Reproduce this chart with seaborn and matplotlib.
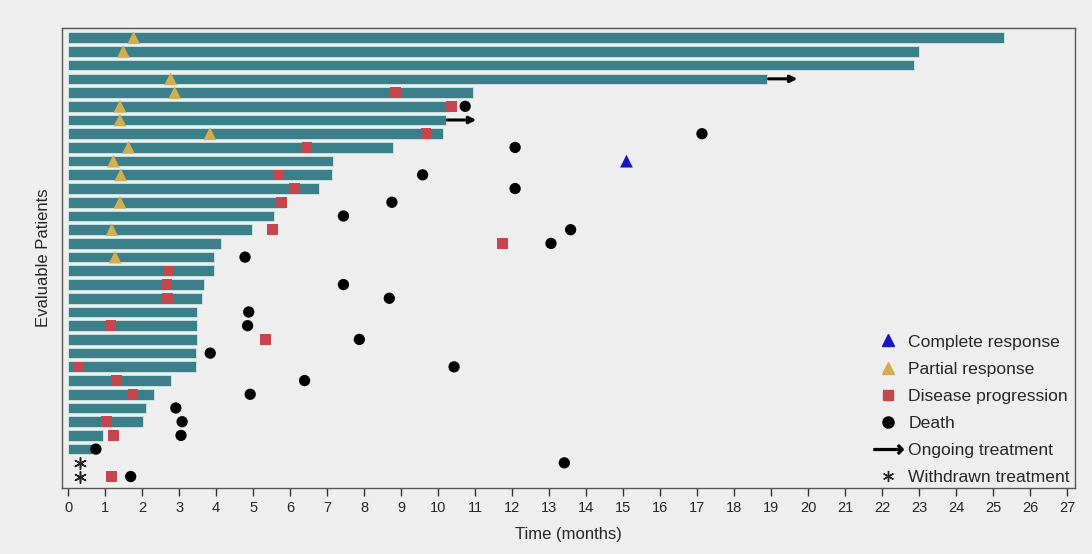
import numpy as np
import pandas as pd
import seaborn as sns
import matplotlib.pyplot as plt
from matplotlib.lines import Line2D

sns.set_theme(style="white")
plt.rcParams["font.family"] = ["Liberation Sans", "DejaVu Sans"]

BG = "#eeeeee"
TEAL = "#3b8089"
GOLD = "#d3ae4c"
RED = "#c6464f"

# patients, top (1) to bottom (33)
patient = list(range(1, 34))
duration = [25.3, 23.0, 22.85, 18.9, 10.93, 10.3, 10.22, 10.14, 8.77, 7.17, 7.14,
            6.79, 5.85, 5.55, 4.96, 4.14, 3.95, 3.95, 3.68, 3.61, 3.48, 3.48, 3.48,
            3.45, 3.45, 2.78, 2.33, 2.10, 2.01, 0.95, 0.64, 0.0, 0.0]

pr_pt = [1, 2, 4, 5, 6, 7, 8, 9, 10, 11, 13, 15, 17]
pr_t = [1.77, 1.49, 2.77, 2.88, 1.40, 1.40, 3.83, 1.63, 1.22, 1.42, 1.40, 1.18, 1.27]

cr_pt = [10]
cr_t = [15.09]

pd_pt = [5, 6, 8, 9, 11, 12, 13, 15, 16, 18, 19, 20, 22, 23, 25, 26, 27, 29, 30, 33]
pd_t = [8.84, 10.36, 9.67, 6.45, 5.68, 6.12, 5.76, 5.53, 11.74, 2.73, 2.67, 2.69,
        1.16, 5.34, 0.28, 1.30, 1.75, 1.03, 1.23, 1.17]

death_pt = [6, 8, 9, 11, 12, 13, 14, 15, 16, 17, 19, 20, 21, 22, 23, 24, 25, 26,
            27, 28, 29, 30, 31, 32, 33]
death_t = [10.73, 17.13, 12.08, 9.58, 12.08, 8.75, 7.44, 13.58, 13.05, 4.78, 7.44,
           8.68, 4.88, 4.85, 7.87, 3.84, 10.43, 6.39, 4.92, 2.91, 3.08, 3.05, 0.75,
           13.41, 1.69]

ongoing_pt = [4, 7]
withdrawn_pt = [32, 33]
withdrawn_t = [0.32, 0.32]

bars = pd.DataFrame({"patient": patient, "duration": duration})
bars = bars[bars["duration"] > 0]

fig, ax = plt.subplots(figsize=(10.92, 5.54), dpi=100)
fig.patch.set_facecolor(BG)
ax.set_facecolor(BG)

sns.barplot(data=bars, x="duration", y="patient", orient="h", native_scale=True,
            color=TEAL, saturation=1, width=0.78, edgecolor="#cfe6e8",
            linewidth=0.6, ax=ax)

sns.scatterplot(x=pr_t, y=pr_pt, marker="^", s=85, color=GOLD, edgecolor="none",
                ax=ax, zorder=3)
sns.scatterplot(x=cr_t, y=cr_pt, marker="^", s=85, color="#1515c8",
                edgecolor="none", ax=ax, zorder=3)
sns.scatterplot(x=pd_t, y=pd_pt, marker="s", s=58, color=RED, edgecolor="none",
                ax=ax, zorder=3)
sns.scatterplot(x=death_t, y=death_pt, marker="o", s=66, color="black",
                edgecolor="none", ax=ax, zorder=3)
sns.scatterplot(x=withdrawn_t, y=withdrawn_pt, marker=(6, 2, 0), s=70,
                color="#222222", linewidth=1.1, ax=ax, zorder=3)

# ongoing treatment arrows start at the bar end
dur_map = dict(zip(patient, duration))
for p in ongoing_pt:
    x0 = dur_map[p] + 0.03
    ax.annotate("", xy=(x0 + 0.78, p), xytext=(x0, p),
                arrowprops=dict(arrowstyle="-|>", color="black", lw=2.2,
                                mutation_scale=10, shrinkA=0, shrinkB=0),
                zorder=4)

ax.set_xlim(-0.16, 27.2)
ax.set_ylim(33.8, 0.27)
ax.set_xticks(range(0, 28))
ax.set_yticks([])
ax.set_xlabel("Time (months)", fontsize=12, labelpad=8)
ax.set_ylabel("Evaluable Patients", fontsize=12, labelpad=8)
ax.tick_params(axis="x", direction="out", length=6, width=1, color="#333333",
               labelsize=10.5, pad=4, bottom=True)
for sp in ax.spines.values():
    sp.set_color("#555555")
    sp.set_linewidth(1)

handles = [
    Line2D([], [], marker="^", color="#1515c8", linestyle="none", markersize=8),
    Line2D([], [], marker="^", color=GOLD, linestyle="none", markersize=8),
    Line2D([], [], marker="s", color=RED, linestyle="none", markersize=7),
    Line2D([], [], marker="o", color="black", linestyle="none", markersize=8),
    Line2D([], [], marker=r"$\longrightarrow$", color="black", linestyle="none",
           markersize=21),
    Line2D([], [], marker=(6, 2, 0), color="#222222", linestyle="none",
           markersize=8),
]
labels = ["Complete response", "Partial response", "Disease progression",
          "Death", "Ongoing treatment", "Withdrawn treatment"]
ax.legend(handles, labels, loc="lower right", frameon=False, fontsize=12.6,
          labelspacing=0.68, handletextpad=0.35, handlelength=1.6,
          borderaxespad=0.2, bbox_to_anchor=(1.006, -0.018))

fig.subplots_adjust(left=0.057, right=0.984, top=0.95, bottom=0.12)
fig.savefig("out.png", dpi=100, facecolor=BG)
